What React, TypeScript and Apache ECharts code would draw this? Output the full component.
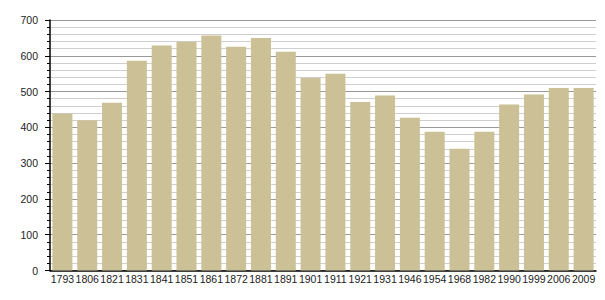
import React, { useEffect, useRef } from "react";
import * as echarts from "echarts";

const years = ["1793","1806","1821","1831","1841","1851","1861","1872","1881","1891","1901","1911","1921","1931","1946","1954","1968","1982","1990","1999","2006","2009"];
const population = [439,420,469,586,629,639,657,625,650,611,538,550,471,489,427,388,340,388,464,492,510,510];
const yTicks = { min: 0, max: 700, interval: 100 };

export default function App() {
  const ref = useRef<HTMLDivElement>(null);
  useEffect(() => {
    const chart = echarts.init(ref.current!, null, { renderer: "svg" });
    chart.setOption({
      animation: false,
      backgroundColor: "#ffffff",
      grid: { left: 50, right: 9, top: 20, bottom: 29.5, containLabel: false },
      xAxis: {
        type: "category",
        data: years,
        axisLine: { show: true, lineStyle: { color: "#000", width: 1.5 } },
        axisTick: { show: false },
        axisLabel: { interval: 0, color: "#222", fontSize: 10.5, fontFamily: "Liberation Sans, Arial, sans-serif", margin: 3 },
      },
      yAxis: {
        type: "value",
        min: yTicks.min,
        max: yTicks.max,
        interval: yTicks.interval,
        axisLine: { show: true, lineStyle: { color: "#000", width: 1.5 } },
        axisTick: { show: true, length: 5, lineStyle: { color: "#000" } },
        minorTick: { show: true, splitNumber: 5, length: 3, lineStyle: { color: "#000" } },
        axisLabel: { color: "#222", fontSize: 10.5, fontFamily: "Liberation Sans, Arial, sans-serif", margin: 12 },
        splitLine: { show: true, lineStyle: { color: "#999", width: 1 } },
        minorSplitLine: { show: true, lineStyle: { color: "#cfcfcf", width: 1 } },
      },
      series: [
        {
          type: "bar",
          data: population,
          barWidth: 20,
          itemStyle: { color: "#cbc096" },
        },
      ],
    });
    return () => chart.dispose();
  }, []);
  return <div ref={ref} style={{ width: 605, height: 300, position: "absolute", left: 0, top: 0 }} />;
}
